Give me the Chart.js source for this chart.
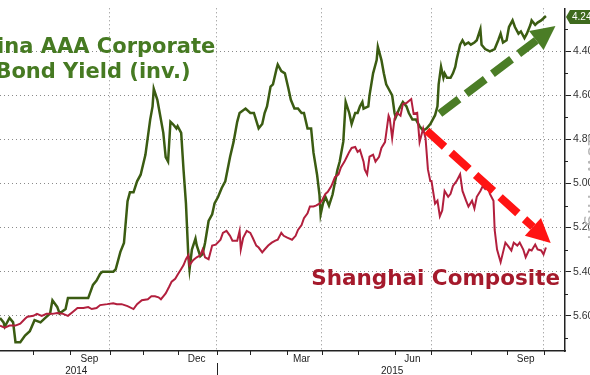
<!DOCTYPE html>
<html>
<head>
<meta charset="utf-8">
<script src="https://cdn.jsdelivr.net/npm/chart.js@4.4.0/dist/chart.umd.min.js"></script>
<style>
  html, body { margin: 0; padding: 0; background: #fff; }
</style>
</head>
<body>
<canvas id="myChart" width="590" height="375"></canvas>
<script>
// x values are days after 1 Jul 2014
const aaaDays = [0,3,4,8,11,13,17,21,25,29,
  34,38,42,44,48,50,55,57,63,74,
  78,81,84,86,92,95,97,101,104,107,
  109,112,115,118,122,126,128,129,132,134,
  137,139,141,143,145,148,149,152,154,156,
  158,159,161,164,165,168,170,172,175,178,
  180,183,186,189,193,196,199,201,206,210,
  213,217,220,222,224,227,229,232,233,236,
  239,242,244,247,250,253,255,258,261,263,
  266,268,269,271,273,276,279,283,285,288,
  290,293,295,298,300,302,304,305,309,310,
  313,316,317,320,322,324,326,329,331,332,
  335,338,341,343,346,349,352,355,358,361,
  362,365,367,368,370,372,373,375,378,380,
  382,383,386,388,390,393,395,398,400,403,
  404,407,411,415,418,420,422,425,427,430,
  432,435,437,440,442,445,446,449,451,454,
  456,458];
// China AAA corporate bond yield, %
const aaaYield = [5.61,5.63,5.65,5.61,5.63,5.72,5.72,5.69,5.67,5.62,
  5.63,5.61,5.59,5.53,5.56,5.59,5.57,5.52,5.52,5.52,
  5.46,5.44,5.41,5.40,5.40,5.40,5.39,5.31,5.27,5.08,
  5.04,5.04,4.99,4.96,4.87,4.71,4.65,4.57,4.62,4.68,
  4.77,4.88,4.90,4.72,4.73,4.75,4.74,4.77,4.94,5.09,
  5.33,5.39,5.30,5.25,5.28,5.33,5.32,5.27,5.17,5.14,
  5.09,5.06,5.02,4.99,4.88,4.81,4.72,4.68,4.66,4.68,
  4.68,4.75,4.73,4.68,4.65,4.56,4.55,4.48,4.46,4.49,
  4.50,4.57,4.62,4.66,4.66,4.68,4.68,4.75,4.75,4.86,
  4.96,5.05,5.14,5.09,5.06,5.10,5.05,4.94,4.90,4.81,
  4.63,4.68,4.73,4.68,4.68,4.65,4.63,4.66,4.65,4.60,
  4.50,4.44,4.38,4.44,4.50,4.55,4.57,4.60,4.68,4.70,
  4.66,4.63,4.65,4.68,4.71,4.71,4.74,4.76,4.75,4.73,
  4.72,4.69,4.65,4.55,4.47,4.52,4.50,4.52,4.52,4.50,
  4.47,4.44,4.37,4.35,4.37,4.36,4.37,4.36,4.35,4.30,
  4.37,4.39,4.40,4.39,4.35,4.32,4.36,4.35,4.29,4.26,
  4.29,4.32,4.31,4.34,4.32,4.28,4.26,4.28,4.27,4.26,
  4.25,4.24];

const shDays = [0,4,8,13,17,21,23,28,31,35,
  39,44,48,53,57,61,65,70,74,77,
  81,84,90,95,98,102,107,112,115,119,
  124,127,130,133,135,137,139,142,144,147,
  149,152,154,156,158,159,162,165,168,170,
  172,175,178,181,185,187,190,193,195,199,
  201,202,204,207,210,212,215,217,220,222,
  225,228,231,233,236,238,241,245,248,250,
  253,255,258,260,263,265,268,270,273,275,
  278,281,284,286,289,291,293,295,298,300,
  302,305,306,308,310,313,315,318,320,323,
  326,327,329,331,333,336,338,341,343,345,
  347,350,352,355,357,359,361,362,365,367,
  369,371,373,376,378,380,383,386,388,391,
  393,396,398,400,403,405,407,409,411,414,
  415,417,420,422,424,426,429,431,434,436,
  439,441,444,446,449,451,454,456,458];
// Shanghai Composite index level
const shComposite = [2077,2050,2077,2077,2103,2170,2197,2210,2237,2210,
  2237,2237,2250,2237,2210,2263,2317,2317,2330,2303,
  2317,2357,2370,2383,2370,2370,2343,2303,2370,2423,
  2437,2477,2477,2463,2437,2477,2517,2610,2677,2717,
  2770,2850,2903,2983,3037,2903,2970,3010,3037,3116,
  3010,2983,3170,3183,3250,3343,3370,3303,3237,3237,
  3370,3116,3277,3370,3343,3277,3170,3143,3077,3116,
  3170,3210,3237,3250,3343,3303,3277,3250,3303,3383,
  3450,3543,3610,3703,3703,3716,3743,3783,3876,3903,
  3983,4103,4143,4236,4316,4383,4449,4503,4516,4449,
  4476,4316,4210,4143,4383,4410,4316,4383,4503,4583,
  4943,4903,4636,4903,4983,4943,5103,5116,5143,5169,
  4969,4983,4583,4769,4636,4210,4050,4050,3743,3783,
  3570,3650,3916,3836,3876,3983,4050,4143,3916,3783,
  3703,3783,3676,3836,3916,3983,3943,3983,3876,3783,
  3383,3116,2943,3077,3210,3170,3103,3210,3170,3210,
  3116,3010,3116,3103,3183,3116,3103,3050,3143];

const yieldTicks = [4.4, 4.6, 4.8, 5.0, 5.2, 5.4, 5.6];
const yieldMinor = [4.3, 4.5, 4.7, 4.9, 5.1, 5.3, 5.5, 5.7];
const quarterDays = [92, 182, 270, 362, 456];
const monthDays = [28, 59, 120, 149, 210, 241, 300, 331, 395, 425];
const monthLabels = ['Sep', 'Dec', 'Mar', 'Jun', 'Sep'];
const monthLabelDays = [75, 165, 253, 346, 441];
const yearLabels = ['2014', '2015'];
const yearLabelDays = [64, 329];
const yearBreakDay = 182;
const lastYield = 4.24;

const GREEN_LINE = '#3b5c12';
const GREEN_TEXT = '#467a22';
const GREEN_ARROW = '#4b7d26';
const RED_LINE = '#b21f3d';
const RED_TEXT = '#a51a2c';
const RED_ARROW = '#ff1414';

function dashedArrow(ctx, x1, y1, x2, y2, color) {
  const a = Math.atan2(y2 - y1, x2 - x1);
  const headLen = 24, headHalf = 12;
  const bx = x2 - headLen * Math.cos(a), by = y2 - headLen * Math.sin(a);
  ctx.save();
  ctx.strokeStyle = color;
  ctx.fillStyle = color;
  ctx.lineWidth = 8;
  ctx.setLineDash([24, 9]);
  ctx.beginPath();
  ctx.moveTo(x1, y1);
  ctx.lineTo(bx, by);
  ctx.stroke();
  ctx.setLineDash([]);
  ctx.beginPath();
  ctx.moveTo(x2, y2);
  ctx.lineTo(bx + headHalf * Math.sin(a), by - headHalf * Math.cos(a));
  ctx.lineTo(bx - headHalf * Math.sin(a), by + headHalf * Math.cos(a));
  ctx.closePath();
  ctx.fill();
  ctx.restore();
}

const decor = {
  id: 'decor',
  afterDraw(chart) {
    const { ctx, chartArea: area } = chart;
    const xs = chart.scales.x, ys = chart.scales.y;
    ctx.save();

    // bottom ticks
    ctx.strokeStyle = '#222';
    ctx.lineWidth = 1;
    monthDays.concat(quarterDays).forEach((d) => {
      const px = Math.round(xs.getPixelForValue(d)) + 0.5;
      ctx.beginPath();
      ctx.moveTo(px, area.bottom);
      ctx.lineTo(px, area.bottom + 4);
      ctx.stroke();
    });
    const yb = Math.round(xs.getPixelForValue(yearBreakDay)) + 0.5;
    ctx.beginPath();
    ctx.moveTo(yb, area.bottom + 12);
    ctx.lineTo(yb, 375);
    ctx.stroke();

    // right minor ticks
    yieldMinor.forEach((v) => {
      const py = Math.round(ys.getPixelForValue(v)) + 0.5;
      ctx.beginPath();
      ctx.moveTo(area.right, py);
      ctx.lineTo(area.right + 3, py);
      ctx.stroke();
    });

    // x labels
    ctx.fillStyle = '#222';
    ctx.font = '10px "Liberation Sans", Arial, sans-serif';
    ctx.textAlign = 'center';
    ctx.textBaseline = 'middle';
    monthLabels.forEach((t, i) => {
      ctx.fillText(t, xs.getPixelForValue(monthLabelDays[i]), area.bottom + 8);
    });
    yearLabels.forEach((t, i) => {
      ctx.fillText(t, xs.getPixelForValue(yearLabelDays[i]), area.bottom + 20);
    });

    // faint rotated legend text on the right edge
    ctx.save();
    ctx.translate(583, 187);
    ctx.rotate(Math.PI / 2);
    ctx.fillStyle = '#b8b8b8';
    ctx.font = '20px "DejaVu Sans", sans-serif';
    ctx.textAlign = 'center';
    ctx.textBaseline = 'bottom';
    ctx.fillText('Low - High', 0, 0);
    ctx.restore();

    // last value tag
    const ty = ys.getPixelForValue(lastYield) + 1;
    ctx.fillStyle = '#3e6a1d';
    ctx.beginPath();
    ctx.moveTo(area.right + 1, ty);
    ctx.lineTo(area.right + 5, ty - 7);
    ctx.lineTo(592, ty - 7);
    ctx.lineTo(592, ty + 7);
    ctx.lineTo(area.right + 5, ty + 7);
    ctx.closePath();
    ctx.fill();
    ctx.fillStyle = '#fff';
    ctx.font = '10px "Liberation Sans", Arial, sans-serif';
    ctx.textAlign = 'left';
    ctx.fillText(lastYield.toFixed(2), area.right + 7, ty + 0.5);

    // arrows
    dashedArrow(ctx, xs.getPixelForValue(369), ys.getPixelForValue(4.683),
      xs.getPixelForValue(466), ys.getPixelForValue(4.285), GREEN_ARROW);
    dashedArrow(ctx, xs.getPixelForValue(358), ys.getPixelForValue(4.76),
      xs.getPixelForValue(462), ys.getPixelForValue(5.27), RED_ARROW);

    // titles
    ctx.font = 'bold 21px "DejaVu Sans", Verdana, sans-serif';
    ctx.textBaseline = 'alphabetic';
    ctx.textAlign = 'center';
    ctx.fillStyle = GREEN_TEXT;
    ctx.fillText('China AAA Corporate', 91, 53);
    ctx.fillText('Bond Yield (inv.)', 93, 78);
    ctx.textAlign = 'right';
    ctx.fillStyle = RED_TEXT;
    ctx.font = 'bold 21.5px "DejaVu Sans", Verdana, sans-serif';
    ctx.fillText('Shanghai Composite', 560, 285);

    ctx.restore();
  }
};

new Chart(document.getElementById('myChart').getContext('2d'), {
  type: 'line',
  data: {
    datasets: [
      {
        label: 'Shanghai Composite',
        data: shDays.map((d, i) => ({ x: d, y: shComposite[i] })),
        yAxisID: 'y2',
        borderColor: RED_LINE,
        borderWidth: 2,
        pointRadius: 0,
        tension: 0,
      },
      {
        label: 'China AAA Corporate Bond Yield (inv.)',
        data: aaaDays.map((d, i) => ({ x: d, y: aaaYield[i] })),
        yAxisID: 'y',
        borderColor: GREEN_LINE,
        borderWidth: 2.5,
        pointRadius: 0,
        tension: 0,
      },
    ],
  },
  options: {
    responsive: false,
    animation: false,
    events: [],
    layout: { padding: 0 },
    plugins: { legend: { display: false }, tooltip: { enabled: false } },
    scales: {
      x: {
        type: 'linear',
        position: 'bottom',
        min: 0,
        max: 474,
        afterBuildTicks: (s) => { s.ticks = quarterDays.map((v) => ({ value: v })); },
        afterFit: (s) => { s.height = 24; },
        ticks: { display: false },
        grid: { color: '#8a8a8a', lineWidth: 1, drawTicks: false },
        border: { display: true, color: '#222', width: 1.5, dash: [1, 3] },
      },
      y: {
        position: 'right',
        reverse: true,
        min: 4.205,
        max: 5.76,
        afterBuildTicks: (s) => { s.ticks = yieldTicks.map((v) => ({ value: v })); },
        afterFit: (s) => { s.width = 25; },
        ticks: {
          padding: 2,
          color: '#333',
          font: { family: '"Liberation Sans", Arial, sans-serif', size: 10.5 },
          callback: (v) => Number(v).toFixed(2),
        },
        grid: { color: '#8a8a8a', lineWidth: 1, tickLength: 6, tickColor: '#222' },
        border: { display: true, color: '#222', width: 1.5, dash: [1, 3] },
      },
      y2: {
        display: false,
        min: 1730,
        max: 6410,
      },
    },
  },
  plugins: [decor],
});
</script>
</body>
</html>
